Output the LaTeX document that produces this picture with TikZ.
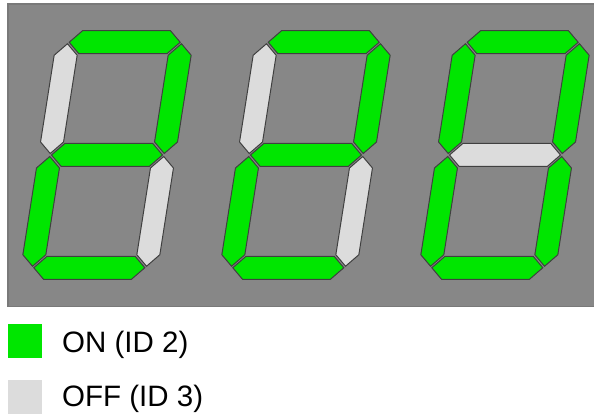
\documentclass[tikz,border=0pt]{standalone}
\usepackage{fontspec}
\setmainfont{Liberation Sans}
\usetikzlibrary{positioning}
\definecolor{ledgreen}{HTML}{00E600}
\definecolor{ledgrey}{HTML}{DCDCDC}
\definecolor{panel}{HTML}{878787}
\definecolor{edge}{HTML}{404040}

\begin{document}
\begin{tikzpicture}[
  x=1pt, y=-1pt,
  panelbox/.style={draw=edge!70, line width=1.2pt, fill=panel},
  seg/.style={draw=edge, line width=1pt, line join=miter},
  lit/.style={seg, fill=ledgreen},
  unlit/.style={seg, fill=ledgrey},
  keybox/.style={minimum size=34pt, inner sep=0pt, anchor=north west},
  keytext/.style={inner sep=0pt, anchor=base west, font=\fontsize{29.5}{34}\selectfont}
]
  \useasboundingbox (0,0) rectangle (594,414);
  \fill[white] (0,0) rectangle (594,414);
  \draw[panelbox] (8,4) rectangle (600,306.5);

  % three digits: top, up-left, up-right, middle, low-left, low-right, bottom
  \foreach \cx/\sa/\sb/\sc/\sd/\se/\sf/\sg in {
      107/lit/unlit/lit/lit/lit/unlit/lit,
      306/lit/unlit/lit/lit/lit/unlit/lit,
      505/lit/lit/lit/unlit/lit/lit/lit}{
    \begin{scope}[shift={(\cx,155)}, xslant=0.157]
      \draw[\sa] (-55.5,-112.75) -- ++(11.5,-11.5) -- ++(88,0) -- ++(11.5,11.5) -- ++(-11.5,11.5) -- ++(-88,0) -- cycle;
      \draw[\sb] (-57,-111.25) -- ++(11.5,11.5) -- ++(0,86.75) -- ++(-11.5,11.5) -- ++(-11.5,-11.5) -- ++(0,-86.75) -- cycle;
      \draw[\sc] (57,-111.25) -- ++(11.5,11.5) -- ++(0,86.75) -- ++(-11.5,11.5) -- ++(-11.5,-11.5) -- ++(0,-86.75) -- cycle;
      \draw[\sd] (-55.5,0) -- ++(11.5,-11.5) -- ++(88,0) -- ++(11.5,11.5) -- ++(-11.5,11.5) -- ++(-88,0) -- cycle;
      \draw[\se] (-57,1.5) -- ++(11.5,11.5) -- ++(0,86.75) -- ++(-11.5,11.5) -- ++(-11.5,-11.5) -- ++(0,-86.75) -- cycle;
      \draw[\sf] (57,1.5) -- ++(11.5,11.5) -- ++(0,86.75) -- ++(-11.5,11.5) -- ++(-11.5,-11.5) -- ++(0,-86.75) -- cycle;
      \draw[\sg] (-55.5,112.75) -- ++(11.5,-11.5) -- ++(88,0) -- ++(11.5,11.5) -- ++(-11.5,11.5) -- ++(-88,0) -- cycle;
    \end{scope}
  }

  % legend
  \node[keybox, fill=ledgreen] (onkey) at (8,324) {};
  \node[keytext] (ontext) at (62,352) {ON (ID 2)};
  \node[keybox, fill=ledgrey] (offkey) at (8,380) {};
  \node[keytext] (offtext) at (62,406) {OFF (ID 3)};
\end{tikzpicture}
\end{document}
